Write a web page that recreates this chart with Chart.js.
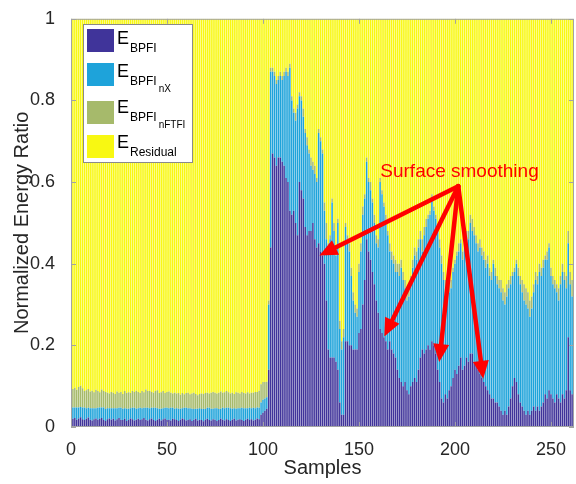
<!DOCTYPE html>
<html>
<head>
<meta charset="utf-8">
<script src="https://cdn.jsdelivr.net/npm/chart.js@4.4.0/dist/chart.umd.min.js"></script>
<style>
  html, body { margin: 0; padding: 0; background: #fff; }
</style>
</head>
<body>
<canvas id="chart" width="576" height="484"></canvas>
<script>
// energy ratios per sample
const eBPFI = [
  0.020,0.022,0.018,0.021,0.024,0.019,0.017,0.020,0.023,0.018,
  0.016,0.019,0.021,0.018,0.020,0.022,0.017,0.015,0.019,0.021,
  0.018,0.020,0.016,0.019,0.022,0.018,0.017,0.020,0.015,0.018,
  0.021,0.019,0.016,0.018,0.020,0.017,0.019,0.022,0.018,0.016,
  0.019,0.021,0.017,0.015,0.018,0.020,0.016,0.019,0.021,0.017,
  0.018,0.016,0.020,0.019,0.017,0.015,0.018,0.021,0.019,0.016,
  0.017,0.019,0.015,0.018,0.020,0.016,0.018,0.017,0.014,0.018,
  0.020,0.017,0.016,0.019,0.018,0.015,0.017,0.020,0.018,0.016,
  0.019,0.017,0.015,0.018,0.020,0.016,0.018,0.019,0.017,0.015,
  0.018,0.020,0.017,0.019,0.016,0.018,0.021,0.019,0.030,0.035,
  0.040,0.045,0.14,0.44,0.67,0.66,0.64,0.66,0.66,0.65,
  0.64,0.61,0.60,0.53,0.52,0.53,0.50,0.47,0.60,0.58,
  0.56,0.49,0.47,0.48,0.48,0.50,0.46,0.44,0.45,0.43,
  0.42,0.40,0.31,0.19,0.17,0.17,0.17,0.16,0.14,0.06,
  0.03,0.03,0.21,0.21,0.20,0.20,0.19,0.19,0.19,0.23,
  0.24,0.30,0.36,0.46,0.43,0.41,0.38,0.35,0.31,0.28,
  0.24,0.23,0.22,0.21,0.19,0.21,0.19,0.18,0.17,0.14,
  0.12,0.11,0.10,0.11,0.09,0.08,0.10,0.11,0.12,0.11,
  0.14,0.17,0.19,0.18,0.19,0.20,0.19,0.21,0.20,0.18,
  0.14,0.11,0.07,0.06,0.08,0.07,0.09,0.10,0.12,0.14,
  0.13,0.15,0.17,0.14,0.15,0.17,0.16,0.18,0.18,0.16,
  0.15,0.14,0.13,0.12,0.11,0.10,0.09,0.08,0.07,0.07,
  0.06,0.06,0.05,0.04,0.03,0.04,0.03,0.05,0.07,0.10,
  0.12,0.11,0.08,0.06,0.05,0.04,0.03,0.04,0.03,0.04,
  0.05,0.04,0.05,0.04,0.05,0.06,0.08,0.07,0.09,0.08,
  0.07,0.06,0.08,0.07,0.06,0.08,0.07,0.09,0.22,0.09,0.08
];
const eBPFInX = [
  0.028,0.026,0.030,0.027,0.025,0.029,0.031,0.026,0.024,0.028,
  0.030,0.027,0.025,0.029,0.028,0.026,0.031,0.029,0.027,0.025,
  0.028,0.026,0.030,0.027,0.025,0.029,0.028,0.026,0.030,0.027,
  0.025,0.028,0.031,0.027,0.026,0.030,0.027,0.025,0.029,0.031,
  0.027,0.026,0.030,0.032,0.028,0.025,0.029,0.027,0.026,0.030,
  0.028,0.031,0.027,0.026,0.029,0.030,0.027,0.025,0.028,0.031,
  0.029,0.027,0.030,0.026,0.025,0.029,0.028,0.027,0.031,0.026,
  0.027,0.030,0.029,0.026,0.028,0.031,0.027,0.025,0.029,0.030,
  0.028,0.030,0.031,0.027,0.026,0.029,0.028,0.027,0.030,0.031,
  0.028,0.026,0.030,0.027,0.031,0.028,0.027,0.028,0.030,0.032,
  0.030,0.028,0.16,0.43,0.20,0.20,0.20,0.19,0.20,0.20,
  0.22,0.26,0.26,0.35,0.28,0.24,0.25,0.31,0.21,0.22,
  0.20,0.23,0.22,0.19,0.16,0.13,0.16,0.16,0.27,0.27,
  0.25,0.13,0.15,0.24,0.29,0.38,0.31,0.26,0.36,0.18,
  0.16,0.19,0.28,0.25,0.23,0.17,0.12,0.09,0.08,0.15,
  0.19,0.22,0.20,0.19,0.17,0.17,0.17,0.15,0.14,0.16,
  0.36,0.34,0.32,0.29,0.28,0.22,0.22,0.22,0.21,0.24,
  0.25,0.28,0.26,0.23,0.22,0.24,0.25,0.28,0.30,0.30,
  0.30,0.29,0.24,0.29,0.30,0.31,0.33,0.35,0.33,0.33,
  0.34,0.33,0.33,0.30,0.25,0.24,0.24,0.24,0.26,0.26,
  0.29,0.28,0.28,0.27,0.29,0.30,0.30,0.32,0.30,0.31,
  0.30,0.29,0.31,0.30,0.30,0.29,0.31,0.29,0.29,0.33,
  0.31,0.29,0.29,0.29,0.28,0.26,0.29,0.29,0.28,0.27,
  0.26,0.29,0.29,0.29,0.28,0.27,0.27,0.25,0.24,0.25,
  0.28,0.32,0.30,0.34,0.32,0.33,0.33,0.34,0.35,0.29,
  0.28,0.28,0.25,0.24,0.29,0.30,0.29,0.25,0.23,0.26,0.24
];
const eBPFInFTFI = [
  0.045,0.048,0.043,0.050,0.052,0.047,0.040,0.044,0.046,0.041,
  0.043,0.039,0.045,0.041,0.037,0.044,0.040,0.042,0.038,0.036,
  0.040,0.038,0.035,0.041,0.037,0.039,0.036,0.042,0.038,0.040,
  0.037,0.041,0.039,0.044,0.040,0.036,0.042,0.038,0.045,0.041,
  0.043,0.039,0.037,0.041,0.044,0.038,0.040,0.042,0.036,0.039,
  0.041,0.037,0.035,0.039,0.036,0.038,0.034,0.037,0.033,0.036,
  0.038,0.034,0.037,0.040,0.036,0.033,0.035,0.038,0.036,0.039,
  0.037,0.035,0.039,0.041,0.038,0.036,0.040,0.042,0.037,0.039,
  0.041,0.038,0.036,0.039,0.035,0.040,0.038,0.036,0.039,0.037,
  0.036,0.039,0.035,0.038,0.037,0.040,0.038,0.042,0.045,0.043,
  0.040,0.038,0.01,0.01,0.01,0.01,0.01,0.01,0.01,0.01,
  0.01,0.01,0.01,0.01,0.01,0.01,0.02,0.01,0.01,0.01,
  0.02,0.01,0.02,0.01,0.02,0.02,0.02,0.01,0.01,0.01,
  0.01,0.02,0.04,0.02,0.01,0.01,0.02,0.02,0.01,0.02,
  0.02,0.02,0.01,0.01,0.02,0.02,0.02,0.02,0.02,0.02,
  0.02,0.02,0.01,0.01,0.01,0.02,0.01,0.02,0.02,0.02,
  0.01,0.01,0.01,0.02,0.01,0.02,0.02,0.02,0.03,0.02,
  0.03,0.02,0.02,0.02,0.02,0.02,0.02,0.02,0.02,0.02,
  0.02,0.02,0.03,0.02,0.02,0.01,0.01,0.01,0.01,0.01,
  0.01,0.02,0.02,0.02,0.03,0.04,0.02,0.02,0.01,0.01,
  0.01,0.02,0.01,0.02,0.01,0.01,0.02,0.02,0.03,0.02,
  0.02,0.02,0.02,0.02,0.02,0.02,0.02,0.02,0.02,0.01,
  0.02,0.02,0.02,0.03,0.03,0.03,0.03,0.02,0.02,0.01,
  0.01,0.01,0.02,0.02,0.03,0.04,0.04,0.04,0.04,0.03,
  0.02,0.02,0.02,0.02,0.02,0.02,0.01,0.02,0.01,0.02,
  0.02,0.02,0.02,0.03,0.02,0.02,0.02,0.03,0.03,0.03,0.04
];
const eResidual = [
  0.907,0.904,0.909,0.902,0.899,0.905,0.912,0.910,0.907,0.913,
  0.911,0.915,0.909,0.912,0.915,0.908,0.912,0.914,0.916,0.918,
  0.914,0.916,0.919,0.913,0.916,0.914,0.919,0.912,0.917,0.915,
  0.917,0.912,0.914,0.911,0.914,0.917,0.912,0.915,0.908,0.912,
  0.911,0.914,0.916,0.912,0.910,0.917,0.915,0.912,0.917,0.914,
  0.913,0.916,0.918,0.916,0.918,0.917,0.921,0.917,0.920,0.917,
  0.916,0.920,0.918,0.916,0.919,0.922,0.919,0.918,0.919,0.917,
  0.916,0.918,0.916,0.914,0.916,0.918,0.916,0.913,0.916,0.915,
  0.912,0.915,0.918,0.916,0.919,0.915,0.916,0.918,0.914,0.917,
  0.918,0.915,0.918,0.916,0.916,0.914,0.914,0.911,0.895,0.890,
  0.890,0.889,0.69,0.12,0.12,0.13,0.15,0.14,0.13,0.14,
  0.13,0.12,0.13,0.11,0.19,0.22,0.23,0.21,0.18,0.19,
  0.22,0.27,0.29,0.32,0.34,0.35,0.36,0.39,0.27,0.29,
  0.32,0.45,0.50,0.55,0.53,0.44,0.50,0.56,0.49,0.74,
  0.79,0.76,0.50,0.53,0.55,0.61,0.67,0.70,0.71,0.60,
  0.55,0.46,0.43,0.34,0.39,0.40,0.44,0.48,0.53,0.54,
  0.39,0.42,0.45,0.48,0.52,0.55,0.57,0.58,0.59,0.60,
  0.60,0.59,0.62,0.64,0.67,0.66,0.63,0.59,0.56,0.57,
  0.54,0.52,0.54,0.51,0.49,0.48,0.47,0.43,0.46,0.48,
  0.51,0.54,0.58,0.62,0.64,0.65,0.65,0.64,0.61,0.59,
  0.57,0.55,0.54,0.57,0.55,0.52,0.52,0.48,0.49,0.51,
  0.53,0.55,0.54,0.56,0.57,0.59,0.58,0.61,0.62,0.59,
  0.61,0.63,0.64,0.64,0.66,0.67,0.65,0.64,0.63,0.62,
  0.61,0.59,0.61,0.63,0.64,0.65,0.66,0.67,0.69,0.68,
  0.65,0.62,0.63,0.60,0.61,0.59,0.58,0.57,0.55,0.61,
  0.63,0.64,0.65,0.66,0.63,0.60,0.62,0.63,0.52,0.62,0.64
];
const samples = eBPFI.map((v, i) => i + 1);
const xTicks = [0, 50, 100, 150, 200, 250];
const yTicks = [0, 0.2, 0.4, 0.6, 0.8, 1];
const xMax = 262;

const colBPFI = '#40349a';
const colNX = '#1ea3da';
const colFTFI = '#a6ba6b';
const colRes = '#f8f812';
const font = '"Liberation Sans", Arial, sans-serif';
const textCol = '#262626';

const toPoints = (arr) => samples.map((s, i) => ({ x: s, y: arr[i] }));

function arrow(ctx, x0, y0, x1, y1) {
  const a = Math.atan2(y1 - y0, x1 - x0);
  const len = 18, half = 8;
  const bx = x1 - len * Math.cos(a), by = y1 - len * Math.sin(a);
  ctx.beginPath();
  ctx.moveTo(x0, y0);
  ctx.lineTo(bx, by);
  ctx.stroke();
  ctx.beginPath();
  ctx.moveTo(x1, y1);
  ctx.lineTo(bx + half * Math.sin(a), by - half * Math.cos(a));
  ctx.lineTo(bx - half * Math.sin(a), by + half * Math.cos(a));
  ctx.closePath();
  ctx.fill();
}

const overlay = {
  id: 'overlay',
  afterDatasetsDraw(chart) {
    const { ctx, chartArea: a } = chart;
    const x = chart.scales.x, y = chart.scales.y;
    ctx.save();

    // axes box with inward ticks
    ctx.strokeStyle = '#a3a3a3';
    ctx.lineWidth = 1;
    ctx.strokeRect(a.left + 0.5, a.top + 0.5, a.right - a.left - 1, a.bottom - a.top - 1);
    ctx.beginPath();
    xTicks.forEach(v => {
      const px = Math.round(x.getPixelForValue(v)) + 0.5;
      ctx.moveTo(px, a.bottom); ctx.lineTo(px, a.bottom - 5);
      ctx.moveTo(px, a.top); ctx.lineTo(px, a.top + 5);
    });
    yTicks.forEach(v => {
      const py = Math.round(y.getPixelForValue(v)) + 0.5;
      ctx.moveTo(a.left, py); ctx.lineTo(a.left + 5, py);
      ctx.moveTo(a.right, py); ctx.lineTo(a.right - 5, py);
    });
    ctx.stroke();

    // annotation
    ctx.strokeStyle = '#ff0000';
    ctx.fillStyle = '#ff0000';
    ctx.lineWidth = 4.5;
    ctx.lineCap = 'round';
    const ox = x.getPixelForValue(201.7), oy = y.getPixelForValue(0.59);
    [[129.4, 0.42], [163.2, 0.222], [191.8, 0.159], [214.7, 0.118]].forEach(([s, v]) => {
      arrow(ctx, ox, oy, x.getPixelForValue(s), y.getPixelForValue(v));
    });
    ctx.font = '19px ' + font;
    ctx.textBaseline = 'alphabetic';
    ctx.fillText('Surface smoothing', x.getPixelForValue(161.1), y.getPixelForValue(0.613));

    // legend
    const lx = 83.5, ly = 24.5;
    ctx.fillStyle = '#fff';
    ctx.fillRect(lx, ly, 109, 138);
    ctx.strokeStyle = '#8a8a8a';
    ctx.lineWidth = 1;
    ctx.strokeRect(lx, ly, 109, 138);
    const items = [
      { c: colBPFI, sub: 'BPFI', sub2: '', sw: 29, base: 44 },
      { c: colNX, sub: 'BPFI', sub2: 'nX', sw: 63, base: 77 },
      { c: colFTFI, sub: 'BPFI', sub2: 'nFTFI', sw: 101, base: 113 },
      { c: colRes, sub: 'Residual', sub2: '', sw: 135, base: 148 }
    ];
    items.forEach(it => {
      ctx.fillStyle = it.c;
      ctx.fillRect(87, it.sw, 27, 23);
      ctx.fillStyle = '#000';
      ctx.font = '18px ' + font;
      ctx.fillText('E', 117, it.base);
      const ew = ctx.measureText('E').width;
      ctx.font = '12px ' + font;
      ctx.fillText(it.sub, 117 + ew + 1, it.base + 8);
      if (it.sub2) {
        const sw = ctx.measureText(it.sub).width;
        ctx.font = '10px ' + font;
        ctx.fillText(it.sub2, 117 + ew + 1 + sw + 2, it.base + 15);
      }
    });
    ctx.restore();
  }
};

const ds = (label, arr, color) => ({
  label,
  data: toPoints(arr),
  backgroundColor: color,
  borderWidth: 0,
  barPercentage: 0.78,
  categoryPercentage: 1.0
});

new Chart(document.getElementById('chart'), {
  type: 'bar',
  data: {
    datasets: [
      ds('E_BPFI', eBPFI, colBPFI),
      ds('E_BPFI_nX', eBPFInX, colNX),
      ds('E_BPFI_nFTFI', eBPFInFTFI, colFTFI),
      ds('E_Residual', eResidual, colRes)
    ]
  },
  options: {
    responsive: false,
    animation: false,
    layout: { padding: { top: 12, right: 2, left: 0, bottom: 0 } },
    plugins: { legend: { display: false }, tooltip: { enabled: false } },
    scales: {
      x: {
        type: 'linear',
        stacked: true,
        offset: false,
        min: 0,
        max: xMax,
        grid: { display: false, offset: false },
        border: { display: false },
        afterBuildTicks: (s) => { s.ticks = xTicks.map(v => ({ value: v })); },
        afterFit: (s) => { s.height = 57; },
        ticks: { color: textCol, font: { family: font, size: 18 }, padding: 4, maxRotation: 0 },
        title: { display: true, text: 'Samples', color: textCol, font: { family: font, size: 20 }, padding: { top: 0, bottom: 4 } }
      },
      y: {
        stacked: true,
        min: 0,
        max: 1,
        grid: { display: false },
        border: { display: false },
        afterBuildTicks: (s) => { s.ticks = yTicks.map(v => ({ value: v })); },
        afterFit: (s) => { s.width = 71; },
        ticks: {
          color: textCol, font: { family: font, size: 18 }, padding: 8,
          callback: (v) => String(+(+v).toFixed(2))
        },
        title: { display: true, text: 'Normalized Energy Ratio', color: textCol, font: { family: font, size: 20 }, padding: { top: 10, bottom: 0 } }
      }
    }
  },
  plugins: [overlay]
});
</script>
</body>
</html>
